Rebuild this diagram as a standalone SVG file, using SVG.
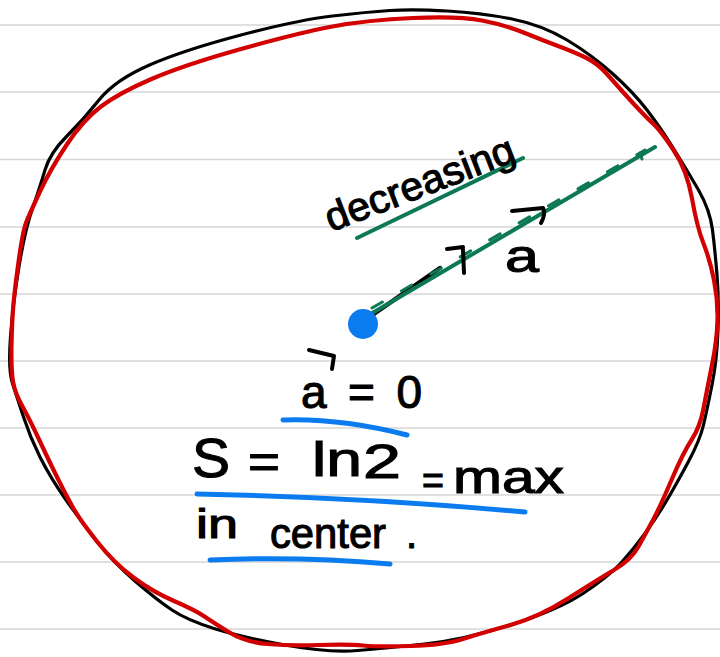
<svg xmlns="http://www.w3.org/2000/svg" width="720" height="657" viewBox="0 0 720 657">
<style>
.rule{stroke:#d6d6d6;stroke-width:1.6}
.ink{fill:none;stroke-linecap:round;stroke-linejoin:round}
.hw{font-family:"Liberation Sans","DejaVu Sans",sans-serif;fill:#000;stroke:#000;stroke-width:1.1}
.green{stroke:#0c7856}
.blue{stroke:#0a7cf0}
</style>
<rect width="720" height="657" fill="#fff"/>
<g id="ruled-lines">
<line class="rule" x1="0" y1="25" x2="720" y2="25"/>
<line class="rule" x1="0" y1="92" x2="720" y2="92"/>
<line class="rule" x1="0" y1="159.5" x2="720" y2="159.5"/>
<line class="rule" x1="0" y1="227" x2="720" y2="227"/>
<line class="rule" x1="0" y1="294" x2="720" y2="294"/>
<line class="rule" x1="0" y1="361" x2="720" y2="361"/>
<line class="rule" x1="0" y1="428" x2="720" y2="428"/>
<line class="rule" x1="0" y1="495" x2="720" y2="495"/>
<line class="rule" x1="0" y1="562" x2="720" y2="562"/>
<line class="rule" x1="0" y1="629" x2="720" y2="629"/>
</g>
<g id="black-circle">
<path class="ink" stroke="#000" stroke-width="3.2" d="M 390,10.5 Q 413,9 447.5,11 Q 482,13 512,19 Q 542,25 567,40 Q 592,55 613,74 Q 634,93 647,110 Q 660,127 673.5,148.5 Q 687,170 698.5,190 Q 710,210 712.5,230 Q 715,250 717,275 Q 719,300 718,330 Q 717,360 712,385 Q 707,410 703.5,425 Q 700,440 688.5,461.5 Q 677,483 667,500 Q 657,517 645,533.5 Q 633,550 620.5,563.5 Q 608,577 583,593.5 Q 558,610 510.5,625 Q 463,640 424.5,644 Q 386,648 357.5,650.5 Q 329,653 285,645 Q 241,637 214,628.5 Q 187,620 172,610 Q 157,600 135.5,581.5 Q 114,563 97,541.5 Q 80,520 65,498.5 Q 50,477 40,457 Q 30,437 23.5,417 Q 17,397 12.5,383.5 Q 8,370 10.5,336.5 Q 13,303 19,266.5 Q 25,230 32.5,208.5 Q 40,187 45,170 Q 50,153 66.5,136.5 Q 83,120 99,100 Q 115,80 149.5,65 Q 184,50 241,35 Q 298,20 332.5,16 Q 367,12 390,10.5 Z"/>
</g>
<g id="red-circle">
<path class="ink" stroke="#d20000" stroke-width="4.2" d="M 413,18 Q 459,16 482,20.5 Q 505,25 523.5,32.5 Q 542,40 558,46 Q 574,52 585.5,57.5 Q 597,63 606,73 Q 615,83 622.5,91.5 Q 630,100 638.5,109 Q 647,118 653.5,124 Q 660,130 673.5,150 Q 687,170 692,198.5 Q 697,227 703.5,243.5 Q 710,260 714,280 Q 718,300 717.5,320 Q 717,340 712,365 Q 707,390 703.5,408.5 Q 700,427 691.5,440 Q 683,453 671.5,480 Q 660,507 653,520 Q 646,533 638.5,546.5 Q 631,560 614,570 Q 597,580 568,598.5 Q 539,617 510.5,625 Q 482,633 463,639 Q 444,645 411,646 Q 378,647 363,645.5 Q 348,644 319,645 Q 290,646 267.5,644 Q 245,642 229.5,632.5 Q 214,623 204.5,616.5 Q 195,610 174,601 Q 153,592 133.5,577.5 Q 114,563 97,541.5 Q 80,520 73.5,508.5 Q 67,497 58.5,480 Q 50,463 40,441.5 Q 30,420 22.5,406.5 Q 15,393 13,381.5 Q 11,370 11.5,345 Q 12,320 13.5,303.5 Q 15,287 19,258.5 Q 23,230 26.5,221.5 Q 30,213 40,191.5 Q 50,170 66.5,145 Q 83,120 101,106.5 Q 119,93 151.5,79 Q 184,65 241,49 Q 298,33 332.5,26.5 Q 367,20 413,18 Z"/>
</g>
<g id="connectors">
<path class="ink" stroke="#000" stroke-width="4.5" d="M368,318 L440,268"/>
<path class="ink green" stroke-width="4" d="M369,315 L655,147"/>
<path class="ink green" stroke-width="3" stroke-dasharray="12 22" d="M372,308 L645,150"/>
<path class="ink green" stroke-width="3" d="M640,153 L642,159"/>
<path class="ink green" stroke-width="4" d="M357,238 L523,158"/>
<path class="ink" stroke="#000" stroke-width="4" d="M512,211 L543,208 Q546,214 541,223"/>
<path class="ink" stroke="#000" stroke-width="4" d="M447,249 L463,247 M463,249 L464,273"/>
</g>
<g id="center-dot">
<circle cx="363" cy="324" r="15" fill="#0a7cf0"/>
</g>
<g id="label-decreasing">
<text class="hw" x="331" y="232" font-size="40" textLength="200" lengthAdjust="spacingAndGlyphs" transform="rotate(-21 331 232)">decreasing</text>
</g>
<g id="label-a-vector">
<text class="hw" x="505" y="272" font-size="46" textLength="34" lengthAdjust="spacingAndGlyphs">a</text>
</g>
<g id="label-a-zero">
<path class="ink" stroke="#000" stroke-width="4" d="M309,350 L334,356 L332,369"/>
<text class="hw" x="301" y="408" font-size="46" textLength="121" lengthAdjust="spacing">a = 0</text>
<path class="ink blue" stroke-width="5" d="M283,420 Q340,418 407,435"/>
</g>
<g id="label-entropy">
<text class="hw" x="192" y="477" font-size="56" textLength="38" lengthAdjust="spacingAndGlyphs">S</text>
<text class="hw" x="248" y="478" font-size="48" textLength="32" lengthAdjust="spacingAndGlyphs">=</text>
<text class="hw" x="312" y="476" font-size="48" textLength="50" lengthAdjust="spacingAndGlyphs">ln</text>
<text class="hw" x="363" y="478" font-size="48" textLength="38" lengthAdjust="spacingAndGlyphs">2</text>
<text class="hw" x="422" y="494" font-size="40" textLength="22" lengthAdjust="spacingAndGlyphs">=</text>
<text class="hw" x="453" y="493" font-size="46" textLength="111" lengthAdjust="spacingAndGlyphs">max</text>
<path class="ink blue" stroke-width="5" d="M197,494 Q360,497 525,512"/>
</g>
<g id="label-center">
<text class="hw" x="196" y="538" font-size="40" textLength="42" lengthAdjust="spacingAndGlyphs">in</text>
<text class="hw" x="270" y="548" font-size="42" textLength="116" lengthAdjust="spacingAndGlyphs">center</text>
<text class="hw" x="406" y="548" font-size="40">.</text>
<path class="ink blue" stroke-width="5" d="M210,560 Q300,556 390,564"/>
</g>
</svg>
